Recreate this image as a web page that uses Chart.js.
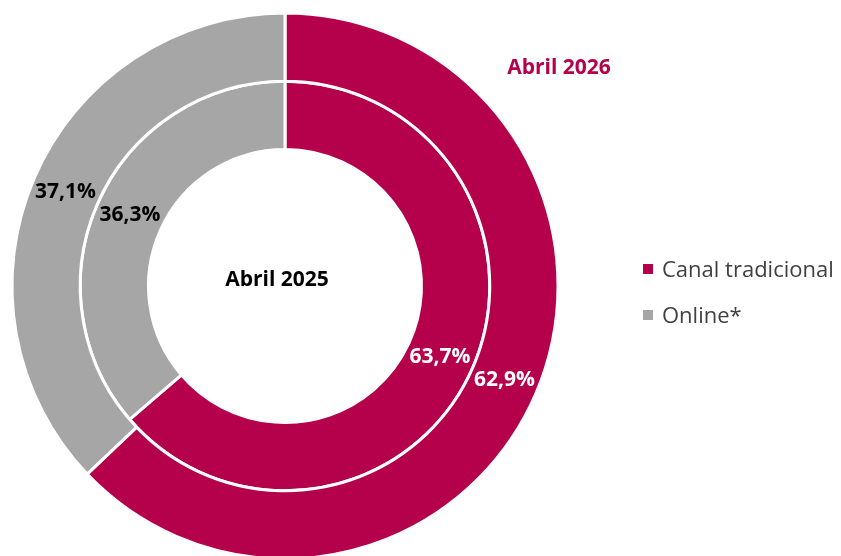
<!DOCTYPE html>
<html>
<head>
<meta charset="utf-8">
<script src="https://cdn.jsdelivr.net/npm/chart.js@4.4.0/dist/chart.umd.min.js"></script>
<style>
    body { margin: 0; background: #fff; }
    #wrap { position: relative; width: 841px; height: 556px; overflow: hidden; }
    .leyenda { position: absolute; left: 643px; font-family: "Open Sans", "Noto Sans", sans-serif; font-size: 22px; color: #404040; line-height: 1; }
    .leyenda span { display: inline-block; width: 10px; height: 10px; margin-right: 9px; vertical-align: middle; position: relative; top: -2px; }
</style>
</head>
<body>
<div id="wrap">
    <canvas id="chartAnillos" width="841" height="556"></canvas>
    <div class="leyenda" id="ley1" style="top:257px"><span style="background:#B5004B"></span>Canal tradicional</div>
    <div class="leyenda" id="ley2" style="top:303px"><span style="background:#A6A6A6"></span>Online*</div>
</div>
<script>
var categorias = ["Canal tradicional", "Online*"]
var colores = ["#B5004B", "#A6A6A6"]
var datos2026 = [62.9, 37.1]   // anillo exterior
var datos2025 = [63.7, 36.3]   // anillo interior
var etiquetaExterior = "Abril 2026"
var etiquetaInterior = "Abril 2025"

var FUENTE = '"Open Sans", "Noto Sans", sans-serif'

function formatoPct(v) {
    return v.toFixed(1).replace(".", ",") + "%"
}

// etiquetas sobre cada arco + textos de los anillos
var pluginEtiquetas = {
    id: "etiquetas",
    afterDatasetsDraw: function (chart) {
        var ctx = chart.ctx
        ctx.save()
        ctx.font = "bold 21px " + FUENTE
        ctx.textAlign = "center"
        ctx.textBaseline = "middle"
        chart.data.datasets.forEach(function (ds, i) {
            var meta = chart.getDatasetMeta(i)
            meta.data.forEach(function (arc, j) {
                var p = arc.tooltipPosition()
                ctx.fillStyle = j == 0 ? "#ffffff" : "#000000"
                ctx.fillText(formatoPct(ds.data[j]), p.x, p.y)
            })
        })
        ctx.fillStyle = "#000000"
        ctx.fillText(etiquetaInterior, 277, 280)
        ctx.fillStyle = colores[0]
        ctx.fillText(etiquetaExterior, 559, 68)
        ctx.restore()
    }
}

var chart = new Chart("chartAnillos", {
    type: "doughnut",
    data: {
        labels: categorias,
        datasets: [
            {label: etiquetaExterior, data: datos2026, backgroundColor: colores, borderColor: "#ffffff", borderWidth: 3, clip: false},
            {label: etiquetaInterior, data: datos2025, backgroundColor: colores, borderColor: "#ffffff", borderWidth: 3, clip: false}
        ]
    },
    options: {
        responsive: false,
        animation: false,
        radius: 273,
        cutout: "50%",
        layout: {padding: {left: 0, right: 271, top: 16, bottom: 0}},
        plugins: {
            legend: {display: false},
            tooltip: {enabled: false}
        }
    },
    plugins: [pluginEtiquetas]
})
</script>
</body>
</html>
